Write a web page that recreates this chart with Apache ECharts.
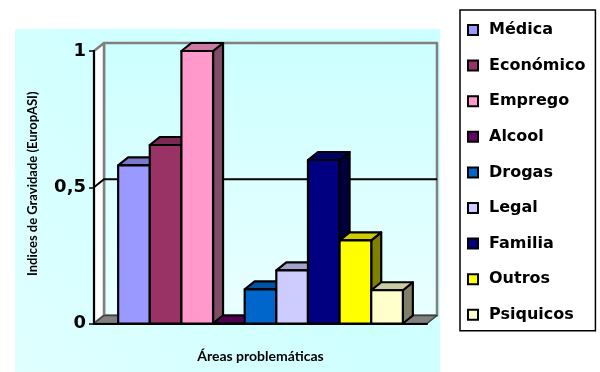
<!DOCTYPE html>
<html>
<head>
<meta charset="utf-8">
<script src="https://cdn.jsdelivr.net/npm/echarts@6/dist/echarts.min.js"></script>
<style>
  html, body { margin: 0; padding: 0; background: #ffffff; }
  #chart { width: 600px; height: 372px; }
</style>
</head>
<body>
<div id="chart"></div>
<script>
// Problem areas and their severity index (EuropASI)
const areas = ['Médica', 'Económico', 'Emprego', 'Alcool', 'Drogas', 'Legal', 'Familia', 'Outros', 'Psiquicos'];
const indices = [0.58, 0.655, 1.0, 0, 0.125, 0.195, 0.6, 0.305, 0.122];
const yTicks = [0, 0.5, 1];
const xAxisTitle = 'Áreas problemáticas';
const yAxisTitle = 'Indices de Gravidade (EuropASI)';

// Front-face colours; top and side faces are darker shades of these
const faceColors = ['#9999FF', '#993366', '#FF99CC', '#660066', '#0066CC', '#CCCCFF', '#000080', '#FFFF00', '#FFFFCC'];

// Oblique depth of the 3D box (pixels) and share of the category band used by the bars
const DX = 10, DY = -8;
const GROUP = 0.855;
const FONT = 'DejaVu Sans';
const TITLE_FONT = 'Lato';

function shade(hex, f) {
  const n = parseInt(hex.slice(1), 16);
  const r = Math.round(((n >> 16) & 255) * f);
  const g = Math.round(((n >> 8) & 255) * f);
  const b = Math.round((n & 255) * f);
  return 'rgb(' + r + ',' + g + ',' + b + ')';
}

// Walls, floor and the 0,5 gridline of the 3D box
function frameRenderer(params, api) {
  const cs = params.coordSys;
  const L = cs.x, R = cs.x + cs.width, T = cs.y, B = cs.y + cs.height;
  const yMid = api.coord([0, yTicks[1]])[1];
  const edge = { stroke: '#808080', lineWidth: 2.5, lineJoin: 'round' };
  return {
    type: 'group',
    children: [
      {
        type: 'polygon', z2: 0,
        shape: { points: [[L + DX, T + DY], [R + DX, T + DY], [R + DX, B + DY], [L + DX, B + DY]] },
        style: Object.assign({
          fill: { type: 'linear', x: 0, y: 0, x2: 0, y2: 1,
            colorStops: [{ offset: 0, color: '#ccffff' }, { offset: 1, color: '#e9ffff' }] }
        }, edge)
      },
      {
        type: 'polygon', z2: 1,
        shape: { points: [[L, T], [L + DX, T + DY], [L + DX, B + DY], [L, B]] },
        style: Object.assign({ fill: '#ffffff' }, edge)
      },
      {
        type: 'polygon', z2: 2,
        shape: { points: [[L, B], [R, B], [R + DX, B + DY], [L + DX, B + DY]] },
        style: { fill: '#808080', stroke: '#404040', lineWidth: 1.5, lineJoin: 'round' }
      },
      {
        type: 'polyline', z2: 3,
        shape: { points: [[L, yMid], [L + DX, yMid + DY], [R + DX, yMid + DY]] },
        style: { stroke: '#000000', lineWidth: 2, fill: null }
      }
    ]
  };
}

// One 3D column per area, placed side by side within the single category band
function barRenderer(i) {
  return function (params, api) {
    const band = api.size([1, 0])[0];
    const base = api.coord([api.value(0), 0]);
    const top = api.coord([api.value(0), api.value(1)]);
    const groupW = band * GROUP;
    const w = groupW / areas.length;
    const x0 = base[0] - groupW / 2 + i * w, x1 = x0 + w;
    const yb = base[1], yt = top[1];
    const col = faceColors[i];
    const st = { stroke: '#000000', lineWidth: 2.2, lineJoin: 'round' };
    return {
      type: 'group',
      children: [
        { type: 'polygon', z2: i * 3,
          shape: { points: [[x1, yb], [x1 + DX, yb + DY], [x1 + DX, yt + DY], [x1, yt]] },
          style: Object.assign({ fill: shade(col, 0.5) }, st) },
        { type: 'polygon', z2: i * 3 + 1,
          shape: { points: [[x0, yt], [x1, yt], [x1 + DX, yt + DY], [x0 + DX, yt + DY]] },
          style: Object.assign({ fill: shade(col, 0.8) }, st) },
        { type: 'rect', z2: i * 3 + 2,
          shape: { x: x0, y: yt, width: w, height: yb - yt },
          style: Object.assign({ fill: col }, st) }
      ]
    };
  };
}

const series = [{
  type: 'custom', name: 'frame', z: 1, silent: true,
  renderItem: frameRenderer, data: [[0]]
}];
areas.forEach(function (name, i) {
  series.push({
    type: 'custom', name: name, z: 2,
    itemStyle: { color: faceColors[i] },
    renderItem: barRenderer(i),
    data: [[0, indices[i]]]
  });
});

const chart = echarts.init(document.getElementById('chart'), null, { renderer: 'canvas' });
chart.setOption({
  animation: false,
  color: faceColors,
  graphic: [{
    type: 'rect', z: -10,
    shape: { x: 15, y: 29, width: 425, height: 343 },
    style: {
      fill: { type: 'linear', x: 0, y: 1, x2: 1, y2: 0,
        colorStops: [{ offset: 0, color: '#e0ffff' }, { offset: 0.5, color: '#d0ffff' }, { offset: 1, color: '#ccffff' }] }
    }
  }],
  grid: { left: 94, right: 173, top: 51, bottom: 48.5, containLabel: false, outerBoundsMode: 'none' },
  legend: {
    data: areas,
    orient: 'vertical',
    left: 460, top: 10,
    icon: 'rect',
    itemWidth: 10, itemHeight: 10, itemGap: 15.6,
    padding: [10, 10, 6, 7],
    backgroundColor: '#ffffff',
    borderColor: '#000000', borderWidth: 1.5,
    itemStyle: { borderColor: '#000000', borderWidth: 2 },
    selectedMode: false,
    textStyle: { fontFamily: FONT, fontWeight: 'bold', fontSize: 16, color: '#000000', lineHeight: 20, padding: [0, 0, 0, 6] }
  },
  xAxis: {
    type: 'category', data: [''], z: 5,
    axisLine: { show: true, lineStyle: { color: '#000000', width: 2 } },
    axisTick: { show: false }, axisLabel: { show: false }, splitLine: { show: false },
    name: xAxisTitle, nameLocation: 'middle', nameGap: 26,
    nameTextStyle: { fontFamily: TITLE_FONT, fontWeight: 'bold', fontSize: 14, color: '#000000' }
  },
  yAxis: {
    type: 'value', z: 5,
    min: yTicks[0], max: yTicks[yTicks.length - 1], interval: yTicks[1] - yTicks[0],
    axisLine: { show: true, lineStyle: { color: '#000000', width: 2 } },
    axisTick: { show: true, length: 5, lineStyle: { color: '#000000', width: 1.5 } },
    splitLine: { show: false },
    axisLabel: {
      fontFamily: FONT, fontWeight: 'bold', fontSize: 18, color: '#000000', margin: 8,
      formatter: function (v) { return String(v).replace('.', ','); }
    },
    name: yAxisTitle, nameLocation: 'middle', nameRotate: 90, nameGap: 55,
    nameTextStyle: { fontFamily: TITLE_FONT, fontWeight: 'bold', fontSize: 13, color: '#000000', padding: [0, 0, 0, 7] }
  },
  series: series
});
</script>
</body>
</html>
